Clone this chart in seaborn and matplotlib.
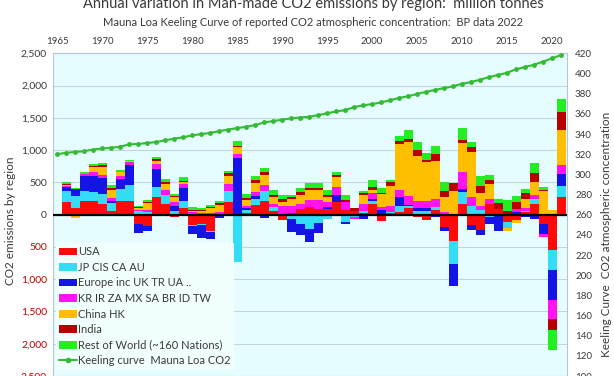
import numpy as np
import pandas as pd
import seaborn as sns
import matplotlib.pyplot as plt
from matplotlib.patches import Patch
from matplotlib.lines import Line2D

# annual change in emissions by region (million tonnes)
years = list(range(1966, 2022))
usa    = [190, 100, 220, 205, 170, 50, 220, 210, -140, -180, 275, 160, -35, 100,
          -165, -150, -245, 0, 190, 5, 20, 145, 220, 65, -80, 30, 90, 120, 95, 90,
          200, 80, 60, 20, 170, -90, 30, 40, 110, -30, -80, 70, -190, -400, 170, -160,
          -240, 170, 95, -110, -85, 40, 170, -140, -550, 275]
jp_cis = [185, 195, 140, 145, 155, 130, 180, 245, 50, 45, 155, 140, 50, 110,
          -10, -15, -20, 10, 185, -740, 60, 100, 155, 55, 0, -60, -150, -220, -130, -60,
          0, -110, -30, 40, 50, 0, 15, 100, 20, 50, 60, 50, 0, -360, 180, 140,
          80, -30, -20, -90, 0, 20, 80, 0, -310, 165]
europe = [50, 85, 235, 255, 250, 40, 155, 310, -140, -65, 285, 0, 90, 200,
          -130, -195, -105, -50, 0, 880, 25, 50, -50, 0, 0, -210, -170, -205, -150, 30,
          105, -40, -10, -60, 25, 75, 0, 130, 20, 60, 40, -40, -55, -340, 55, -80,
          -80, -110, -240, 0, 40, -30, -60, -155, -465, 195]
kr_etc = [15, 10, 30, 50, 40, 40, 50, 50, 25, 25, 75, 80, 50, 60,
          40, 20, 30, 30, 100, 60, 35, 50, 80, 50, 130, 110, 70, 110, 130, 80,
          120, 120, -20, 100, 90, 40, 95, 120, 140, 100, 120, 130, 40, 0, 260, 130,
          60, 80, 0, 10, 50, 40, 50, -50, -285, 130]
china  = [20, -45, 0, 90, 130, 130, 50, 10, 30, 110, 50, 100, 80, 30,
          10, 30, 70, 110, 130, 100, 90, 150, 155, 100, 70, 100, 150, 160, 165, 80,
          165, 0, 0, 150, 50, 210, 310, 710, 830, 700, 590, 590, 240, 370, 440, 700,
          200, 230, 0, -50, -50, 150, 210, 370, 70, 545]
india  = [15, 10, 10, 15, 20, 20, 10, 5, 10, 20, 20, 20, 20, 20,
          30, 30, 25, 25, 40, 15, 30, 45, 50, 40, 40, 40, 45, 30, 20, 30,
          30, 35, 40, 25, 45, 15, 50, 50, 55, 90, 40, 100, 85, 125, 60, 78,
          100, 55, 80, 45, 100, 85, 130, 20, -180, 285]
rest   = [30, 10, 20, 25, 35, 50, 30, 25, 20, 30, 35, 60, 35, 60,
          40, 25, 30, 45, 30, 75, 65, 55, 60, 70, 60, 25, 65, 70, 80, 80,
          45, 75, 10, 30, 105, 80, 40, 75, 140, 130, 110, 120, 145, 0, 180, 78,
          165, 85, 75, 175, 100, 65, 155, 40, -310, 205]

# Mauna Loa annual CO2 (ppm)
keeling_years = list(range(1965, 2022))
keeling = [320.0, 321.4, 322.2, 323.0, 324.6, 325.7, 326.3, 327.5, 329.7, 330.2,
           331.1, 332.0, 333.8, 335.4, 336.8, 338.7, 339.9, 341.1, 342.8, 344.4,
           345.9, 347.2, 348.9, 351.5, 352.9, 354.2, 355.6, 356.4, 357.1, 358.8,
           360.6, 362.4, 363.7, 366.7, 368.4, 369.7, 371.3, 373.5, 375.8, 377.5,
           379.8, 381.9, 383.8, 385.6, 387.4, 389.9, 391.6, 393.9, 396.5, 398.6,
           400.8, 404.2, 406.5, 408.7, 411.9, 415.0, 418.5]

regions = ['USA', 'JP CIS CA AU', 'Europe inc UK TR UA ..', 'KR IR ZA MX SA BR ID TW',
           'China HK', 'India', 'Rest of World (~160 Nations)']
colors = ['#FF0A0A', '#33DDF8', '#1414E6', '#FF14F0', '#FFBF00', '#B80000', '#22EE22']
keeling_color = '#33BB33'

df = pd.DataFrame({'year': years})
for name, vals in zip(regions, [usa, jp_cis, europe, kr_etc, china, india, rest]):
    df[name] = vals
df = df.melt(id_vars='year', var_name='region', value_name='value')
pos = df.assign(value=df['value'].clip(lower=0))
neg = df.assign(value=df['value'].clip(upper=0))

sns.set_theme(style='white')
plt.rcParams['font.family'] = ['Lato', 'DejaVu Sans']
txt = '#3A3A3A'

fig = plt.figure(figsize=(6.14, 3.76), dpi=100)
ax = fig.add_axes([53.3 / 614, 0.0, 513.4 / 614, 322.6 / 376])
ax.set_facecolor('#E6FDFF')

# stacked bars, positives up from zero and negatives down from zero
# (seaborn puts the first hue level on top, so the order is reversed)
for part in (pos, neg):
    sns.histplot(data=part, x='year', weights='value', hue='region',
                 hue_order=regions[::-1], palette=dict(zip(regions, colors)),
                 multiple='stack', discrete=True, shrink=1, alpha=1,
                 edgecolor='none', linewidth=0, legend=False, ax=ax)

ax.axhline(0, color='black', lw=1.6, zorder=5)
ax.set_xlim(1964.58, 2021.63)
ax.set_ylim(-2500, 2500)
ax.set_yticks(range(-2500, 2501, 500))
ax.set_yticklabels([f'{abs(v):,}' for v in range(-2500, 2501, 500)])
for lab, v in zip(ax.get_yticklabels(), range(-2500, 2501, 500)):
    lab.set_color('#C00000' if v < 0 else txt)
ax.yaxis.grid(True, color='#C3D3DA', lw=0.8)
ax.set_axisbelow(True)
ax.xaxis.tick_top()
ax.set_xticks(range(1965, 2021, 5))
ax.tick_params(axis='x', length=0, labelsize=7, labelcolor=txt, pad=5)
ax.tick_params(axis='y', length=0, labelsize=7.5, pad=4.5)
ax.set_xlabel('')
ax.set_ylabel('CO2 emissions by region', fontsize=8.5, color=txt)
ax.yaxis.set_label_coords(-0.072, 0.48)
for s in ax.spines.values():
    s.set_color('#B5C8D0')
    s.set_linewidth(0.8)

# Keeling curve on the right axis
ax2 = ax.twinx()
sns.lineplot(x=keeling_years, y=keeling, ax=ax2, color=keeling_color, lw=1.5,
             marker='o', markersize=3.5, markeredgewidth=0, zorder=6)
ax2.set_ylim(100, 420)
ax2.set_yticks(range(100, 421, 20))
ax2.tick_params(axis='y', length=0, labelsize=7, labelcolor=txt, pad=6)
ax2.set_ylabel('Keeling Curve  CO2 atmospheric concentration', fontsize=8.5, color=txt)
ax2.yaxis.set_label_coords(1.066, 0.44)
for s in ax2.spines.values():
    s.set_visible(False)

handles = [Patch(facecolor=c, edgecolor='none') for c in colors]
handles.append(Line2D([], [], color=keeling_color, lw=1.5, marker='o', markersize=3))
labels = regions + ['Keeling curve  Mauna Loa CO2']
ax2.legend(handles, labels, loc='upper left', bbox_to_anchor=(56 / 614, 1 - 243 / 376),
           bbox_transform=fig.transFigure, fontsize=8, frameon=True, facecolor='#F2FFFF',
           edgecolor='none', framealpha=1, handlelength=1.55, handletextpad=0.15,
           labelspacing=0.41, borderpad=0.3, borderaxespad=0, fancybox=False,
           labelcolor=txt)

fig.text(0.511, 0.979, 'Annual variation in Man-made CO2 emissions by region:  million tonnes',
         ha='center', va='baseline', fontsize=10.5, color=txt)
fig.text(0.509, 0.931, 'Mauna Loa Keeling Curve of reported CO2 atmospheric concentration:  BP data 2022',
         ha='center', va='baseline', fontsize=8, color=txt)

fig.savefig('out.png', dpi=100, facecolor='white')
